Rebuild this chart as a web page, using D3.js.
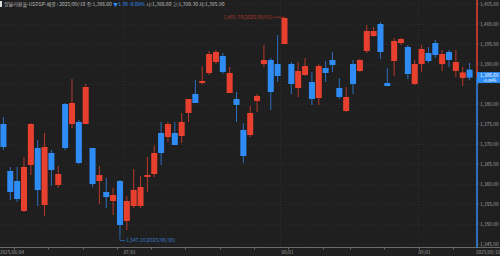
<!DOCTYPE html>
<html>
<head>
<meta charset="utf-8">
<script src="https://cdn.jsdelivr.net/npm/d3@7"></script>
<style>
  html, body { margin: 0; padding: 0; background: #1f1f1f; }
  svg { display: block; }
  text { font-family: "Noto Sans CJK KR", "Noto Sans", sans-serif; }
</style>
</head>
<body>
<div id="chart"></div>
<script>
const dates = [
  "06/04","06/05","06/09","06/10","06/11","06/12","06/13","06/16","06/17","06/18","06/19","06/20",
  "06/23","06/24","06/25","06/26","06/27","06/30",
  "07/01","07/02","07/03","07/04","07/07","07/08","07/09","07/10","07/11","07/14","07/15","07/16",
  "07/17","07/18","07/21","07/22","07/23","07/24","07/25","07/28","07/29","07/30","07/31",
  "08/01","08/04","08/05","08/06","08/07","08/08","08/11","08/12","08/13","08/14","08/18","08/19",
  "08/20","08/21","08/22","08/25","08/26","08/27","08/28","08/29",
  "09/01","09/02","09/03","09/04","09/05","09/08","09/09","09/10"
];
const opens = [
  1375.0,1363.25,1360.75,1353.25,1364.75,1369.0,1354.75,1367.75,1359.75,1380.0,1375.0,1375.5,
  1375.0,1369.0,1360.75,1358.0,1355.75,1360.75,
  1350.75,1354.5,1354.5,1361.75,1362.5,1372.75,1371.75,1372.75,1372.0,1377.75,1382.5,1385.25,
  1387.75,1390.5,1392.0,1382.75,1381.25,1373.5,1372.25,1380.75,1390.0,1391.0,1390.0,
  1395.0,1390.0,1384.0,1387.25,1385.5,1381.5,1389.0,1391.0,1384.0,1378.25,1390.0,1388.25,
  1393.25,1397.0,1400.0,1385.25,1390.75,1395.25,1394.25,1385.0,
  1390.0,1392.75,1395.25,1390.0,1393.0,1388.25,1386.5,1388.6
];
const highs = [
  1376.75,1364.25,1364.25,1366.75,1375.25,1371.0,1372.75,1368.5,1364.5,1380.25,1386.25,1376.0,
  1385.0,1369.0,1364.5,1361.5,1359.0,1361.0,
  1357.0,1363.75,1362.0,1366.75,1369.75,1375.5,1375.5,1375.5,1377.75,1381.25,1386.0,1389.5,
  1393.25,1393.5,1392.75,1389.25,1383.0,1375.25,1379.5,1382.5,1394.75,1391.5,1397.25,
  1401.7,1390.5,1390.5,1391.5,1388.0,1390.0,1390.75,1393.0,1386.5,1384.25,1391.0,1391.25,
  1399.75,1399.25,1400.5,1389.0,1396.5,1396.5,1394.75,1391.0,
  1394.75,1394.25,1396.0,1393.5,1393.5,1393.5,1389.25,1390.3
];
const lows = [
  1368.5,1356.0,1355.5,1353.0,1362.25,1354.5,1352.0,1359.5,1359.0,1368.5,1374.0,1365.0,
  1375.0,1359.25,1355.0,1354.0,1352.25,1347.1,
  1348.5,1354.0,1354.0,1358.0,1361.75,1364.75,1370.5,1369.75,1370.25,1375.5,1380.25,1385.0,
  1387.25,1390.0,1387.5,1382.75,1375.5,1365.25,1371.75,1378.0,1389.25,1378.5,1385.5,
  1395.0,1382.5,1381.75,1387.0,1379.75,1379.75,1385.5,1388.0,1381.25,1378.0,1382.5,1388.0,
  1392.75,1396.75,1391.25,1384.5,1387.0,1394.75,1386.25,1384.75,
  1388.0,1390.25,1391.5,1388.25,1389.25,1386.75,1384.5,1385.9
];
const closes = [
  1369.25,1358.0,1356.25,1364.25,1375.0,1358.5,1369.25,1363.5,1362.5,1369.0,1380.25,1365.25,
  1384.25,1360.0,1362.25,1356.75,1357.25,1349.75,
  1355.75,1358.5,1359.25,1362.25,1367.75,1367.75,1375.0,1369.75,1375.5,1381.25,1380.25,1385.75,
  1392.5,1393.0,1388.0,1387.75,1379.75,1367.0,1377.75,1382.0,1391.0,1383.0,1387.0,
  1401.5,1385.0,1388.25,1389.5,1381.25,1389.5,1387.75,1389.75,1381.75,1381.75,1385.0,1391.0,
  1398.25,1398.25,1393.0,1384.5,1395.75,1396.25,1387.5,1390.0,
  1393.75,1390.75,1392.25,1392.5,1391.0,1390.5,1387.9,1386.6
];
const yTicks = [1345,1350,1355,1360,1365,1370,1375,1380,1385,1390,1395,1400,1405];
const monthLabels = ["07/01","08/01","09/01"];
const headerTitle = "원달러환율-USDSP-체결 : 2025/09/10 종:1,386.60";
const headerChange = "▼1.30  -0.09%";
const headerRest = "시:1,388.60 고:1,390.30 저:1,385.90";
const lastChangePct = "-0.09%";

const W = 500, H = 256;
const plotRight = 473, axisX = 477, axisY = 247.5;
const UP = "#e8402e", DOWN = "#2f8cf5";
const UP_DIM = "#b8382a", DOWN_DIM = "#2d6fc0";

const svg = d3.select("#chart").append("svg").attr("width", W).attr("height", H);
svg.append("rect").attr("width", W).attr("height", H).attr("fill", "#1f1f1f");

const x = d3.scaleBand().domain(d3.range(dates.length)).range([0, plotRight]).paddingInner(0.12).paddingOuter(0.06);
const y = d3.scaleLinear().domain([1345, 1405]).range([244, 4]);
const cx = i => x(i) + x.bandwidth() / 2;

// grid
svg.append("g").selectAll("line").data(yTicks).join("line")
  .attr("x1", 0).attr("x2", axisX)
  .attr("y1", d => Math.round(y(d)) + 0.5).attr("y2", d => Math.round(y(d)) + 0.5)
  .attr("stroke", "#2b2b2b").attr("stroke-dasharray", "1,2");

const monthIdx = monthLabels.map(m => dates.indexOf(m));
svg.append("g").selectAll("line").data(monthIdx).join("line")
  .attr("x1", i => Math.round(x(i) - 1) + 0.5).attr("x2", i => Math.round(x(i) - 1) + 0.5)
  .attr("y1", 0).attr("y2", axisY)
  .attr("stroke", "#2e2e2e").attr("stroke-dasharray", "1,2");

// candles
const idx = d3.range(dates.length);
const up = i => closes[i] >= opens[i];

svg.append("g").selectAll("line").data(idx).join("line")
  .attr("x1", cx).attr("x2", cx)
  .attr("y1", i => y(highs[i])).attr("y2", i => y(lows[i]))
  .attr("stroke", i => up(i) ? UP_DIM : DOWN_DIM).attr("stroke-width", 1);

svg.append("g").selectAll("rect").data(idx).join("rect")
  .attr("x", i => x(i)).attr("width", x.bandwidth())
  .attr("y", i => y(Math.max(opens[i], closes[i])))
  .attr("height", i => Math.max(1, Math.abs(y(opens[i]) - y(closes[i]))))
  .attr("fill", i => up(i) ? UP : DOWN);

// high / low annotations
const hiIdx = d3.maxIndex(highs), loIdx = d3.minIndex(lows);
const fmt = d3.format(",.2f");
const hy = y(highs[hiIdx]);
svg.append("path")
  .attr("d", `M${cx(hiIdx) - 11},${hy}H${cx(hiIdx)}V${hy + 1.5}`)
  .attr("fill", "none").attr("stroke", "#a8342a").attr("stroke-width", 0.8);
svg.append("text").attr("x", cx(hiIdx) - 12).attr("y", hy).attr("dy", "0.35em")
  .attr("text-anchor", "end").attr("font-size", 5).attr("fill", "#b5392d")
  .text(`${fmt(highs[hiIdx])}(2025/${dates[hiIdx]})`);

const ly = y(lows[loIdx]);
svg.append("path")
  .attr("d", `M${cx(loIdx)},${ly}V${ly + 5}H${cx(loIdx) + 5}`)
  .attr("fill", "none").attr("stroke", "#2d6fc0").attr("stroke-width", 0.8);
svg.append("text").attr("x", cx(loIdx) + 6).attr("y", ly + 5).attr("dy", "0.35em")
  .attr("font-size", 5).attr("fill", "#3a7fd0")
  .text(`${fmt(lows[loIdx])}(2025/${dates[loIdx]})`);

// x axis
svg.append("line").attr("x1", 0).attr("x2", W).attr("y1", axisY).attr("y2", axisY)
  .attr("stroke", "#6a6a6a");
const mondays = idx.filter(i => {
  const [m, d] = dates[i].split("/").map(Number);
  return new Date(2025, m - 1, d).getDay() === 1;
});
svg.append("g").selectAll("line").data(mondays).join("line")
  .attr("x1", i => Math.round(x(i)) + 0.5).attr("x2", i => Math.round(x(i)) + 0.5)
  .attr("y1", axisY).attr("y2", axisY + 2).attr("stroke", "#6a6a6a");

const xLabels = [{t: "2025/" + dates[0], x: 0, a: "start"}]
  .concat(monthIdx.map(i => ({t: dates[i], x: x(i), a: "start"})))
  .concat([{t: "2025/" + dates[dates.length - 1], x: W, a: "end"}]);
svg.append("g").selectAll("text").data(xLabels).join("text")
  .attr("x", d => d.x).attr("y", 252.5).attr("dy", "0.35em").attr("text-anchor", d => d.a)
  .attr("font-size", 4.6).attr("fill", "#9a9a9a").text(d => d.t);

// y axis
const lastY = y(closes[closes.length - 1]);
svg.append("line").attr("x1", axisX).attr("x2", axisX).attr("y1", 0).attr("y2", lastY)
  .attr("stroke", UP).attr("stroke-width", 1.5);
svg.append("line").attr("x1", axisX).attr("x2", axisX).attr("y1", lastY).attr("y2", axisY)
  .attr("stroke", DOWN).attr("stroke-width", 1.5);
svg.append("g").selectAll("line").data(yTicks).join("line")
  .attr("x1", axisX).attr("x2", axisX + 2)
  .attr("y1", d => y(d)).attr("y2", d => y(d)).attr("stroke", "#777").attr("stroke-width", 0.6);
svg.append("g").selectAll("text").data(yTicks.filter(d => Math.abs(y(d) - lastY) > 7)).join("text")
  .attr("x", axisX + 3).attr("y", d => y(d)).attr("dy", "0.35em")
  .attr("font-size", 4.8).attr("fill", "#a0a0a0").text(d => fmt(d));

// last price tag
svg.append("rect").attr("x", axisX).attr("y", lastY - 5.5).attr("width", W - axisX).attr("height", 11)
  .attr("fill", DOWN);
svg.append("text").attr("x", axisX + 3).attr("y", lastY - 2.5).attr("dy", "0.35em")
  .attr("font-size", 4.8).attr("fill", "#ffffff").text(fmt(closes[closes.length - 1]));
svg.append("text").attr("x", axisX + 6).attr("y", lastY + 2.8).attr("dy", "0.35em")
  .attr("font-size", 4.2).attr("fill", "#ffffff").text(lastChangePct);

// header
svg.append("rect").attr("x", 0).attr("y", 1).attr("width", 2).attr("height", 6).attr("fill", "#dddddd");
const head = svg.append("text").attr("x", 4).attr("y", 4).attr("dy", "0.35em").attr("font-size", 5);
head.append("tspan").attr("fill", "#bdbdbd").text(headerTitle + " ");
head.append("tspan").attr("fill", DOWN).text(headerChange + " ");
head.append("tspan").attr("fill", "#bdbdbd").text(headerRest);
</script>
</body>
</html>
